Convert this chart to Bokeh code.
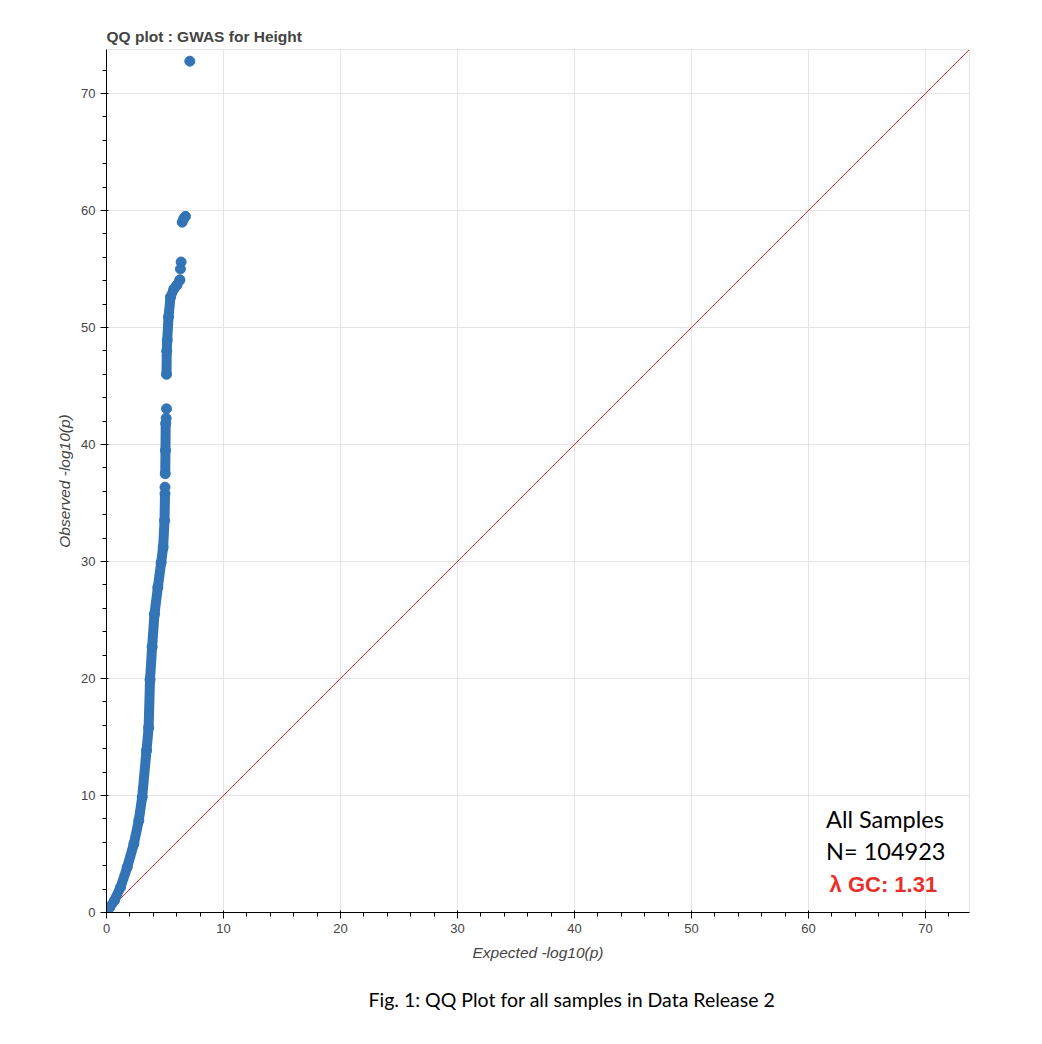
from bokeh.plotting import figure
from bokeh.models import Label, Title, Range1d
from bokeh.embed import file_html
from bokeh.resources import INLINE

# ---- data ----
# continuous bands of the QQ curve (expected, observed)
band1_x = [0.0, 0.25, 0.68, 1.2, 1.77, 2.34, 2.76, 3.05, 3.42, 3.6, 3.72, 3.9, 4.1, 4.39, 4.67, 4.84, 4.96, 5.0]
band1_y = [0.05, 0.4, 1.03, 2.16, 3.87, 5.87, 7.86, 9.86, 13.85, 15.8, 19.9, 22.7, 25.5, 27.8, 29.9, 31.2, 33.5, 35.8]
band2_x = [5.02, 5.04, 5.06]
band2_y = [37.5, 39.5, 41.8]
band3_x = [5.13, 5.15, 5.19, 5.3, 5.47, 5.76, 6.0, 6.27]
band3_y = [46.0, 48.0, 48.9, 50.9, 52.6, 53.3, 53.6, 54.07]
# isolated points
pts_x = [5.0, 5.1, 5.13, 6.32, 6.38, 6.47, 6.6, 6.75, 7.12]
pts_y = [36.35, 42.25, 43.05, 55.0, 55.6, 59.0, 59.3, 59.5, 72.76]

axis_max = 73.76
title_text = "QQ plot : GWAS for Height"
x_label = "Expected -log10(p)"
y_label = "Observed -log10(p)"
caption = "Fig. 1: QQ Plot for all samples in Data Release 2"
note_lines = ["All Samples", "N= 104923"]
lambda_text = "\u03bb GC: 1.31"

blue = "#3274b5"

p = figure(frame_width=863, frame_height=863, output_backend="svg",
           toolbar_location=None, title=title_text,
           x_range=Range1d(0, axis_max), y_range=Range1d(0, axis_max),
           min_border_left=106, min_border_top=49, min_border_right=30,
           min_border_bottom=40)
p.title.text_font_size = "15.5px"
p.title.text_color = "#444444"

p.xaxis.axis_label = x_label
p.yaxis.axis_label = y_label
p.xaxis.ticker.desired_num_ticks = 8
p.yaxis.ticker.desired_num_ticks = 8
for ax in (p.xaxis, p.yaxis):
    ax.axis_label_text_font_style = "italic"
    ax.axis_label_text_font_size = "15.5px"
    ax.axis_label_text_color = "#444444"
    ax.major_label_text_font_size = "13px"
    ax.major_label_text_color = "#444444"
p.xaxis.axis_label_standoff = 8

# diagonal reference line y = x
p.line([0, axis_max], [0, axis_max], line_color="#e8302a", line_width=1)

# dense bands
p.multi_line(xs=[band1_x, band2_x, band3_x], ys=[band1_y, band2_y, band3_y],
             line_color=blue, line_width=10, line_cap="round", line_join="round")
# points
p.scatter(band1_x + band2_x + band3_x + pts_x, band1_y + band2_y + band3_y + pts_y,
          size=10, fill_color=blue, line_color=blue)

p.add_layout(Label(x=61.5, y=6.8, text=note_lines[0], text_font="Lato",
                   text_font_size="23.5px", text_color="black"))
p.add_layout(Label(x=61.5, y=4.1, text=note_lines[1], text_font="Lato",
                   text_font_size="23.5px", text_color="black"))
p.add_layout(Label(x=61.8, y=1.3, text=lambda_text, text_font="Liberation Sans",
                   text_font_style="bold", text_font_size="22px", text_color="#e8302a"))

cap = Title(text=caption, align="left", offset=262, text_font="Lato",
            text_font_style="normal", text_font_size="19.5px", text_color="black",
            standoff=45)
p.add_layout(cap, "below")

open("out.html", "w").write(file_html(p, INLINE))
